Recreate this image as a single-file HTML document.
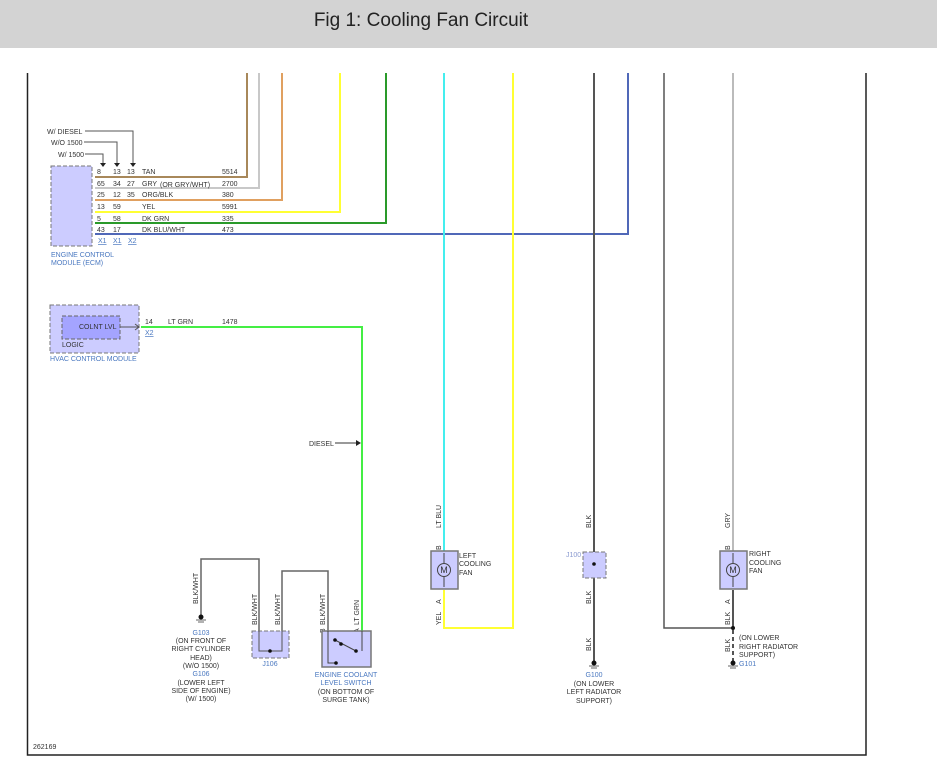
<!DOCTYPE html>
<html><head><meta charset="utf-8"><style>
html,body{margin:0;padding:0;background:#fff;width:937px;height:772px;overflow:hidden}
svg{display:block}
text{font-family:"Liberation Sans",sans-serif;font-size:7px;fill:#333}
.b{fill:#4a78c0}
</style></head><body>
<svg width="937" height="772" viewBox="0 0 937 772">
<rect x="0" y="0" width="937" height="48" fill="#d3d3d3"/>
<text x="421" y="26" text-anchor="middle" style="font-size:19px;fill:#222">Fig 1: Cooling Fan Circuit</text>
<!-- frame -->
<path d="M27.5 73 V755 H866 V73" fill="none" stroke="#222" stroke-width="1.5"/>
<!-- ECM wires -->
<g fill="none" stroke-width="2">
<path d="M247 73 V177 H95" stroke="#a8885a"/>
<path d="M259 73 V188 H95" stroke="#c8c8c8"/>
<path d="M282 73 V200 H95" stroke="#e0a060"/>
<path d="M340 73 V212 H95" stroke="#ffff33"/>
<path d="M386 73 V223 H95" stroke="#2a9a2a"/>
<path d="M628 73 V234 H95" stroke="#5068b8"/>
<path d="M444 73 V551" stroke="#44eeee"/>
<path d="M513 73 V628 H444 V590" stroke="#ffff33"/>
<path d="M594 73 V663" stroke="#555"/>
<path d="M664 73 V628 H733" stroke="#555" stroke-width="1.5"/>
<path d="M733 73 V551" stroke="#bbb"/>
<path d="M733 590 V628" stroke="#555"/>
<path d="M733 630 V662" stroke="#555" stroke-dasharray="4,3"/>
<path d="M141 327 H362 V631" stroke="#44ee44"/>
</g>
<!-- ECM -->
<rect x="51" y="166" width="41" height="80" fill="#ccccff" stroke="#777" stroke-dasharray="4,2"/>
<g>
<text x="97" y="174">8</text><text x="113" y="174">13</text><text x="127" y="174">13</text><text x="142" y="174">TAN</text><text x="222" y="174">5514</text>
<text x="97" y="186">65</text><text x="113" y="186">34</text><text x="127" y="186">27</text><text x="142" y="186">GRY</text><text x="160" y="187">(OR GRY/WHT)</text><text x="222" y="186">2700</text>
<text x="97" y="197">25</text><text x="113" y="197">12</text><text x="127" y="197">35</text><text x="142" y="197">ORG/BLK</text><text x="222" y="197">380</text>
<text x="97" y="209">13</text><text x="113" y="209">59</text><text x="142" y="209">YEL</text><text x="222" y="209">5991</text>
<text x="97" y="221">5</text><text x="113" y="221">58</text><text x="142" y="221">DK GRN</text><text x="222" y="221">335</text>
<text x="97" y="232">43</text><text x="113" y="232">17</text><text x="142" y="232">DK BLU/WHT</text><text x="222" y="232">473</text>
<text x="98" y="243" class="b" text-decoration="underline">X1</text><text x="113" y="243" class="b" text-decoration="underline">X1</text><text x="128" y="243" class="b" text-decoration="underline">X2</text>
<text x="51" y="257" class="b">ENGINE CONTROL</text><text x="51" y="265" class="b">MODULE (ECM)</text>
<text x="47" y="134">W/ DIESEL</text><text x="51" y="145">W/O 1500</text><text x="58" y="157">W/ 1500</text>
</g>
<g fill="none" stroke="#555" stroke-width="1">
<path d="M85 131 H133 V164"/><path d="M84 142 H117 V164"/><path d="M85 154 H103 V164"/>
</g>
<g fill="#222"><path d="M130 163h6l-3 4z"/><path d="M114 163h6l-3 4z"/><path d="M100 163h6l-3 4z"/></g>
<!-- HVAC -->
<rect x="50" y="305" width="89" height="48" fill="#ccccff" stroke="#777" stroke-dasharray="4,2"/>
<rect x="62" y="316" width="58" height="23" fill="#a4a4ff" stroke="#666" stroke-dasharray="4,2"/>
<text x="79" y="329">COLNT LVL</text><text x="62" y="347">LOGIC</text>
<text x="50" y="361" class="b">HVAC CONTROL MODULE</text>
<path d="M120 327 H139 M135 324 L139 327 L135 330" fill="none" stroke="#555"/>
<text x="145" y="324">14</text><text x="168" y="324">LT GRN</text><text x="222" y="324">1478</text>
<text x="145" y="335" class="b" text-decoration="underline">X2</text>
<text x="309" y="446">DIESEL</text>
<path d="M335 443 H358" stroke="#333"/><path d="M356 440 L361 443 L356 446z" fill="#222"/>
<!-- left ground/junction -->
<g fill="none" stroke="#666" stroke-width="1.5">
<path d="M201 615 V559 H259 V631"/><path d="M282 631 V571 H328 V631"/>
</g>
<circle cx="201" cy="617" r="2.5" fill="#111"/><path d="M196 620h10M198 622h6" stroke="#666"/>
<text transform="translate(198,604) rotate(-90)">BLK/WHT</text>
<text transform="translate(257,625) rotate(-90)">BLK/WHT</text>
<text transform="translate(280,625) rotate(-90)">BLK/WHT</text>
<text transform="translate(325,625) rotate(-90)">BLK/WHT</text>
<text transform="translate(359,625) rotate(-90)">LT GRN</text>
<text transform="translate(325,633) rotate(-90)">B</text>
<text transform="translate(359,633) rotate(-90)">A</text>
<g class="b" text-anchor="middle">
<text x="201" y="635" class="b">G103</text><text x="201" y="707" class="b" style="fill:none"></text>
</g>
<g text-anchor="middle">
<text x="201" y="643">(ON FRONT OF</text><text x="201" y="651">RIGHT CYLINDER</text><text x="201" y="660">HEAD)</text><text x="201" y="668">(W/O 1500)</text>
<text x="201" y="676" class="b">G106</text><text x="201" y="685">(LOWER LEFT</text><text x="201" y="693">SIDE OF ENGINE)</text><text x="201" y="701">(W/ 1500)</text>
</g>
<rect x="252" y="631" width="37" height="27" fill="#ccccff" stroke="#777" stroke-dasharray="4,2"/>
<path d="M259 631 V651 H282 V631" fill="none" stroke="#555"/><circle cx="270" cy="651" r="1.8" fill="#111"/>
<text x="270" y="666" class="b" text-anchor="middle">J106</text>
<!-- switch -->
<rect x="322" y="631" width="49" height="36" fill="#ccccff" stroke="#777" stroke-width="1.5"/>
<path d="M328 631 V663 H336 M362 631 V651 M335 640 L356 651" fill="none" stroke="#444"/>
<circle cx="336" cy="663" r="1.8" fill="#111"/><circle cx="335" cy="640" r="1.8" fill="#111"/><circle cx="341" cy="644" r="1.8" fill="#111"/><circle cx="356" cy="651" r="1.8" fill="#111"/>
<g text-anchor="middle">
<text x="346" y="677" class="b">ENGINE COOLANT</text><text x="346" y="685" class="b">LEVEL SWITCH</text>
<text x="346" y="694">(ON BOTTOM OF</text><text x="346" y="702">SURGE TANK)</text>
</g>
<!-- left fan -->
<rect x="431" y="551" width="27" height="38" fill="#ccccff" stroke="#777" stroke-width="1.5"/>
<circle cx="444" cy="570" r="6.5" fill="#ccccff" stroke="#444"/><text x="444" y="573" text-anchor="middle" style="font-size:9px">M</text>
<path d="M444 553 V563 M444 577 V587" stroke="#444"/>
<text x="459" y="558">LEFT</text><text x="459" y="566">COOLING</text><text x="459" y="575">FAN</text>
<text transform="translate(441,528) rotate(-90)">LT BLU</text>
<text transform="translate(441,550) rotate(-90)">B</text>
<text transform="translate(441,604) rotate(-90)">A</text>
<text transform="translate(441,625) rotate(-90)">YEL</text>
<!-- J100 -->
<rect x="583" y="552" width="23" height="26" fill="#ccccff" stroke="#777" stroke-dasharray="4,2"/>
<circle cx="594" cy="564" r="1.8" fill="#111"/>
<text x="566" y="557" style="fill:#8a9ad0">J100</text>
<text transform="translate(591,528) rotate(-90)">BLK</text>
<text transform="translate(591,604) rotate(-90)">BLK</text>
<text transform="translate(591,651) rotate(-90)">BLK</text>
<circle cx="594" cy="663" r="2.5" fill="#111"/><path d="M589 666h10M591 668h6" stroke="#666"/>
<g text-anchor="middle"><text x="594" y="677" class="b">G100</text><text x="594" y="686">(ON LOWER</text><text x="594" y="694">LEFT RADIATOR</text><text x="594" y="703">SUPPORT)</text></g>
<!-- right fan -->
<rect x="720" y="551" width="27" height="38" fill="#ccccff" stroke="#777" stroke-width="1.5"/>
<circle cx="733" cy="570" r="6.5" fill="#ccccff" stroke="#444"/><text x="733" y="573" text-anchor="middle" style="font-size:9px">M</text>
<path d="M733 553 V563 M733 577 V587" stroke="#444"/>
<text x="749" y="556">RIGHT</text><text x="749" y="565">COOLING</text><text x="749" y="573">FAN</text>
<text transform="translate(730,528) rotate(-90)">GRY</text>
<text transform="translate(730,550) rotate(-90)">B</text>
<text transform="translate(730,604) rotate(-90)">A</text>
<text transform="translate(730,625) rotate(-90)">BLK</text>
<text transform="translate(730,652) rotate(-90)">BLK</text>
<circle cx="733" cy="628" r="2" fill="#111"/>
<circle cx="733" cy="663" r="2.5" fill="#111"/><path d="M728 666h10M730 668h6" stroke="#666"/>
<text x="739" y="640">(ON LOWER</text><text x="739" y="649">RIGHT RADIATOR</text><text x="739" y="657">SUPPORT)</text>
<text x="739" y="666" class="b">G101</text>
<text x="33" y="749">262169</text>
</svg>
</body></html>
